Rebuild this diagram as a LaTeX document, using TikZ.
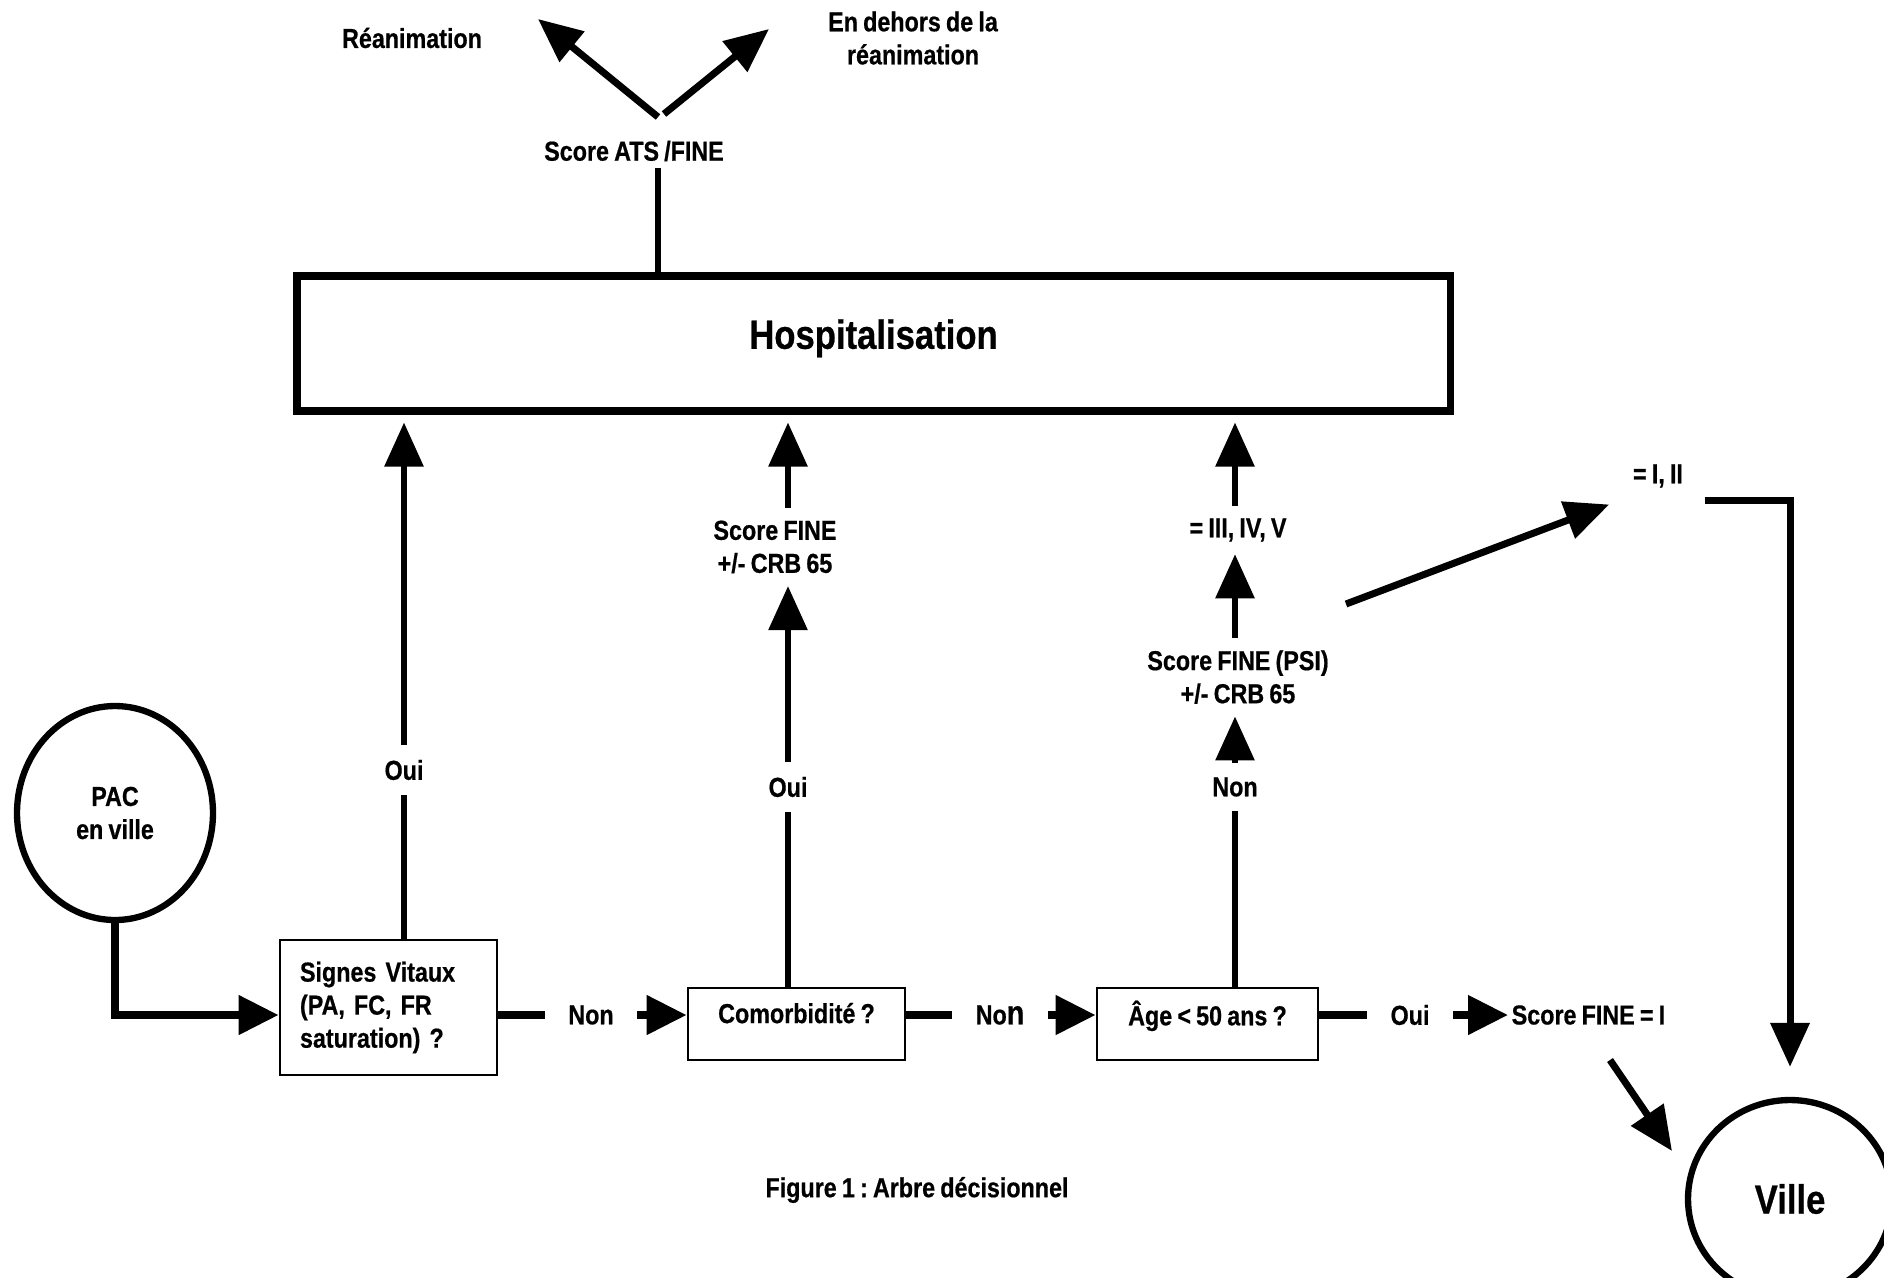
\documentclass[tikz,border=0pt]{standalone}
\usepackage{fontspec}
\setmainfont{Liberation Sans}[FakeStretch=0.85, WordSpace=0.8, BoldFeatures={FakeBold=0.6}]
\frenchspacing
\usetikzlibrary{arrows.meta, positioning, shapes.geometric, calc}

\begin{document}
\begin{tikzpicture}[
  x=0.1mm, y=-0.1mm,
  lbl/.style={font=\fontsize{7.8}{9.4}\selectfont\bfseries, align=center, inner sep=1.2mm},
  big/.style={font=\fontsize{11.6}{14}\selectfont\bfseries},
  qbox/.style={rectangle, draw, line width=0.8pt, minimum width=2.17cm, lbl},
  bigbox/.style={rectangle, draw, line width=2pt, big},
  disc/.style={ellipse, draw, line width=1.8pt, inner sep=0pt},
  conn/.style={line width=1.7pt},
  hconn/.style={line width=2.2pt},
  arrow/.style={conn, -{Triangle[width=3.8mm, length=4.4mm]}},
  harrow/.style={hconn, -{Triangle[width=3.8mm, length=4mm]}}
]
  \useasboundingbox (0,0) rectangle (1884,1277);

  % Hospitalisation and what follows
  \node[bigbox, minimum width=11.53cm, minimum height=1.35cm, text depth=1.9mm] (hosp) at (873.5,343.5) {Hospitalisation};
  \node[lbl] (ats) at (634,151) {Score ATS /FINE};
  \node[lbl] (rea) at (412,38) {Réanimation};
  \node[lbl] (dehors) at (913,38) {En dehors de la\\réanimation};

  % Start and end
  \node[disc, lbl, minimum width=1.96cm, minimum height=2.14cm] (pac) at (115,813) {PAC\\en ville};
  \node[disc, big, minimum width=2.04cm, minimum height=1.98cm] (ville) at (1790,1199) {Ville};

  % Questions
  \node[qbox, minimum height=1.35cm, text width=1.77cm, align=left, inner xsep=2mm] (signes) at (388.5,1007.5) {Signes Vitaux\\(PA, FC, FR\\saturation) ?};
  \node[qbox, minimum height=0.72cm, text depth=2.2mm] (comorb) at (796.5,1024) {Comorbidité ?};
  \node[qbox, minimum width=2.21cm, minimum height=0.72cm, text depth=2.2mm] (age) at (1207.5,1024) {Âge < 50 ans ?};

  % Answers on the bottom row
  \node[lbl, inner xsep=2.3mm] (non1) at (591,1015) {Non};
  \node[lbl, inner xsep=2.3mm] (non2) at (1000,1015) {No{\fontsize{9.6}{9.6}\selectfont n}};
  \node[lbl, inner xsep=2.3mm] (oui3) at (1410,1015) {Oui};
  \node[lbl, anchor=west, inner xsep=0.3mm] (fine1) at (1508,1015) {Score FINE = I};

  % Answers going up
  \node[lbl, inner ysep=1.4mm] (oui1) at (404,770) {Oui};
  \node[lbl, inner ysep=1.4mm] (oui2) at (788,787) {Oui};
  \node[lbl, inner ysep=1.4mm] (non3) at (1235,787) {Non};
  \node[lbl] (fine2) at (775,547) {Score FINE\\+/- CRB 65};
  \node[lbl] (psi) at (1238,677) {Score FINE (PSI)\\+/- CRB 65};
  \node[lbl] (iii) at (1238,530) {= III, IV, V};
  \node[lbl] (i2) at (1658,476) {= I, II};

  \node[lbl] (caption) at (917,1190) {Figure 1 : Arbre décisionnel};

  % Free ends
  \coordinate (atsfoot) at (658,168);
  \coordinate (reafoot) at (658,117);
  \coordinate (reatip) at (538,19);
  \coordinate (dehfoot) at (664,114);
  \coordinate (dehtip) at (769,29);
  \coordinate (psiout) at (1346,604);
  \coordinate (f1out) at (1610,1060);
  \coordinate (f1tip) at (1672,1151);

  % Arrows
  \draw[conn] (atsfoot) -- (atsfoot |- hosp.north);
  \draw[arrow, line width=2pt] (reafoot) -- (reatip);
  \draw[arrow, line width=2pt] (dehfoot) -- (dehtip);

  \draw[harrow] (pac.south) |- (signes.west |- non1);
  \draw[hconn] (signes.east |- non1) -- (non1);
  \draw[harrow] (non1) -- (comorb.west |- non1);
  \draw[hconn] (comorb.east |- non2) -- (non2);
  \draw[harrow] (non2) -- (age.west |- non2);
  \draw[hconn] (age.east |- oui3) -- (oui3);
  \draw[harrow] (oui3) -- (fine1.west);

  \draw[conn] (oui1 |- signes.north) -- (oui1);
  \draw[arrow, shorten >=0.8mm] (oui1) -- (oui1 |- hosp.south);

  \draw[conn] (oui2 |- comorb.north) -- (oui2);
  \draw[arrow] (oui2) -- (oui2 |- fine2.south);
  \draw[arrow, shorten >=0.8mm] (oui2 |- fine2.north) -- (oui2 |- hosp.south);

  \draw[conn] (non3 |- age.north) -- (non3);
  \draw[arrow] (non3) -- (non3 |- psi.south);
  \draw[arrow] (non3 |- psi.north) -- (non3 |- iii.south);
  \draw[arrow, shorten >=0.8mm] (non3 |- iii.north) -- (non3 |- hosp.south);

  \draw[arrow, line width=2pt, shorten >=1.2mm] (psiout) -- (i2.south west);
  \draw[arrow, line width=2pt, shorten >=3mm] ([xshift=0.9mm]i2.south east) -| (ville.north);
  \draw[arrow, line width=2pt] (f1out) -- (f1tip);
\end{tikzpicture}
\end{document}
